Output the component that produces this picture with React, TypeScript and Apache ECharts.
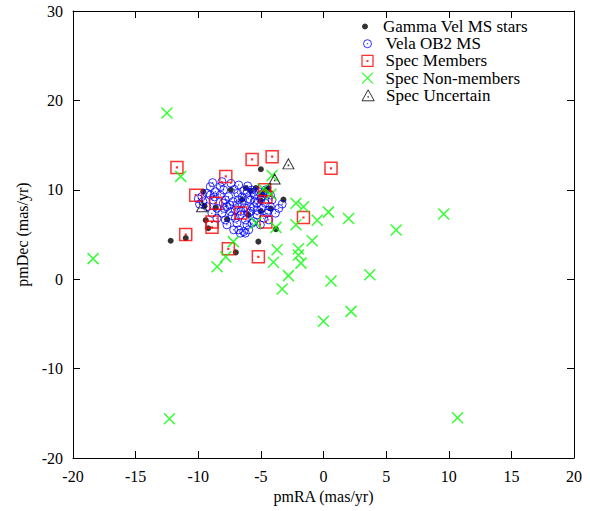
import React, { useEffect, useRef } from "react";
import * as echarts from "echarts";

// ---- Data (pmRA, pmDec) in mas/yr ----
const gammaVel: [number, number][] = [
  [-12.2, 4.3], [-11.0, 4.6], [-9.6, 9.8], [-9.4, 6.6], [-9.2, 5.7], [-9.5, 8.2],
  [-7.4, 10.0], [-6.2, 10.2], [-5.4, 10.2], [-4.4, 10.2], [-5.0, 12.3], [-3.2, 8.9],
  [-6.5, 8.9], [-5.0, 8.8], [-5.0, 7.6], [-7.7, 6.7], [-3.8, 5.6], [-5.2, 4.2],
  [-7.0, 3.0], [-4.6, 10.0], [-5.8, 9.9], [-4.9, 9.5], [-8.6, 8.0], [-6.0, 7.2],
  [-4.2, 7.9],
];

const velaOB2: [number, number][] = [
  [-8.85, 10.8], [-8.11, 10.91], [-7.39, 10.72], [-6.77, 10.54], [-6.05, 10.43], [-9.04, 10.35], [-8.24, 10.35],
  [-9.31, 9.61], [-8.64, 9.79], [-7.97, 9.98], [-7.12, 10.05], [-6.37, 9.9], [-5.71, 9.98], [-5.17, 9.79], [-4.64, 9.98],
  [-9.71, 9.24], [-9.04, 9.42], [-8.24, 9.42], [-7.57, 9.24], [-6.85, 9.61], [-6.11, 9.61], [-5.52, 9.42], [-4.91, 9.24], [-4.24, 9.42],
  [-9.63, 8.68], [-8.83, 8.86], [-7.84, 8.86], [-7.23, 8.68], [-6.51, 8.49], [-5.84, 8.86], [-5.31, 8.49], [-4.64, 8.49], [-4.11, 8.86],
  [-9.31, 8.12], [-8.51, 7.93], [-7.71, 8.12], [-7.04, 7.75], [-6.16, 7.93], [-5.57, 8.12], [-4.91, 7.93], [-4.24, 8.12], [-3.57, 7.93],
  [-8.91, 7.38], [-8.11, 7.38], [-7.44, 7.56], [-6.64, 7.19], [-5.97, 7.38], [-5.31, 7.19], [-4.51, 7.38], [-3.84, 7.38],
  [-8.51, 6.82], [-7.84, 6.63], [-7.04, 6.82], [-6.24, 6.63], [-5.57, 6.45], [-4.77, 6.82], [-4.37, 6.63],
  [-7.71, 6.08], [-6.91, 6.26], [-6.11, 6.08], [-5.71, 6.26], [-5.04, 6.08],
  [-7.17, 5.52], [-6.77, 5.52], [-6.37, 5.33], [-6.24, 5.15], [-6.64, 5.15], [-5.97, 5.52],
  [-6.5, 9.2], [-6.0, 9.0], [-5.5, 8.7], [-6.8, 8.9], [-7.5, 8.3], [-6.3, 8.0], [-5.8, 7.6],
  [-5.0, 8.9], [-4.8, 9.6], [-5.6, 9.7], [-6.9, 8.3], [-7.9, 7.9], [-8.7, 9.2], [-8.0, 8.5],
  [-6.6, 7.6], [-5.3, 7.7], [-4.4, 7.7], [-7.3, 7.1], [-9.9, 8.4], [-10.0, 9.0], [-3.3, 8.4],
];

const specMembers: [number, number][] = [
  [-11.7, 12.5], [-11.0, 5.0], [-10.2, 9.4], [-8.9, 6.4], [-8.9, 5.8], [-8.6, 8.5],
  [-7.8, 11.5], [-7.6, 3.4], [-5.7, 13.4], [-4.1, 13.7], [0.6, 12.4], [-1.6, 6.9],
  [-5.2, 2.5], [-6.6, 7.4], [-4.6, 6.4], [-4.7, 10.0], [-4.6, 9.2],
];

const specNonMembers: [number, number][] = [
  [-12.5, 18.6], [-18.4, 2.3], [-12.3, -15.6], [10.7, -15.5], [-11.4, 11.5], [-4.1, 11.6],
  [-4.8, 10.1], [-4.2, 9.5], [-2.2, 8.5], [-1.6, 8.1], [0.4, 7.5], [2.0, 6.8],
  [-0.5, 6.6], [-2.2, 6.1], [-0.9, 4.3], [-2.0, 3.4], [-2.0, 2.7], [-1.8, 1.8],
  [-3.7, 3.3], [-4.0, 1.9], [-2.8, 0.4], [-3.3, -1.1], [0.6, -0.2], [0.0, -4.7],
  [2.2, -3.6], [3.7, 0.5], [5.8, 5.5], [9.6, 7.3], [-5.4, 6.3], [-3.8, 5.8],
  [-7.2, 4.2], [-7.8, 2.5], [-8.5, 1.4],
];

const specUncertain: [number, number][] = [
  [-2.8, 12.9], [-3.9, 11.2], [-9.7, 8.1],
];

const seriesNames = [
  "Gamma Vel MS stars",
  "Vela OB2 MS",
  "Spec Members",
  "Spec Non-members",
  "Spec Uncertain",
];

const xRange = { min: -20, max: 20, interval: 5 };
const yRange = { min: -20, max: 30, interval: 10 };

// ---- symbols ----
const CIRCLE_DOT =
  "path://M10,5A5,5 0 1,1 0,5A5,5 0 1,1 10,5Z M5.35,5A0.35,0.35 0 1,1 4.65,5A0.35,0.35 0 1,1 5.35,5Z";
const SQUARE_DOT = "path://M0,0H10V10H0Z M4.7,4.7H5.3V5.3H4.7Z";
const CROSS = "path://M0,0L10,10M10,0L0,10";
const TRIANGLE_DOT = "path://M5,0L10,9L0,9Z M4.75,5.6H5.25V6.1H4.75Z";

const FONT = "Liberation Serif";

export default function App() {
  const ref = useRef<HTMLDivElement>(null);

  useEffect(() => {
    if (!ref.current) return;
    const chart = echarts.init(ref.current, undefined, { renderer: "svg" });

    const axisCommon = {
      axisLine: { show: true, onZero: false, lineStyle: { color: "#000", width: 1 } },
      axisTick: { show: true, inside: true, length: 7, lineStyle: { color: "#000", width: 1 } },
      splitLine: { show: false },
    };

    const rows = [26, 43.2, 60.4, 77.6, 94.8];
    const iconSizes = [6, 8, 11, 11, 11];
    const icons = ["circle", CIRCLE_DOT, SQUARE_DOT, CROSS, TRIANGLE_DOT];
    const iconStyles: any[] = [
      { color: "#000", borderWidth: 0 },
      { color: "none", borderColor: "#0000ff", borderWidth: 1 },
      { color: "none", borderColor: "#ff0000", borderWidth: 1.3 },
      { color: "none", borderColor: "#00ff00", borderWidth: 1.3 },
      { color: "none", borderColor: "#000", borderWidth: 1 },
    ];
    const iconCenterX = 365;
    const legendItemWidth = 26;

    const legends = seriesNames.map((name, i) => ({
      show: true,
      orient: "vertical",
      left: iconCenterX - iconSizes[i] / 2,
      top: rows[i] - 8,
      padding: 0,
      itemWidth: legendItemWidth,
      itemHeight: iconSizes[i],
      selectedMode: false,
      symbolKeepAspect: true,
      textStyle: { fontFamily: FONT, fontSize: 17, color: "#000", lineHeight: 16 },
      data: [{ name, icon: icons[i], itemStyle: iconStyles[i] }],
    }));

    const option: any = {
      animation: false,
      backgroundColor: "#fff",
      grid: { left: 73, right: 16, top: 11, bottom: 53, containLabel: false, outerBoundsMode: "none" },
      legend: legends,
      xAxis: [
        {
          type: "value",
          position: "bottom",
          ...xRange,
          ...axisCommon,
          name: "pmRA (mas/yr)",
          nameLocation: "middle",
          nameGap: 30,
          nameTextStyle: { fontFamily: FONT, fontSize: 16, color: "#000" },
          axisLabel: { fontFamily: FONT, fontSize: 16, color: "#000", margin: 10 },
        },
        {
          type: "value",
          position: "top",
          ...xRange,
          ...axisCommon,
          axisLabel: { show: false },
        },
      ],
      yAxis: [
        {
          type: "value",
          position: "left",
          ...yRange,
          ...axisCommon,
          name: "pmDec (mas/yr)",
          nameLocation: "middle",
          nameGap: 42,
          nameTextStyle: { fontFamily: FONT, fontSize: 16, color: "#000" },
          axisLabel: { fontFamily: FONT, fontSize: 16, color: "#000", margin: 10 },
        },
        {
          type: "value",
          position: "right",
          ...yRange,
          ...axisCommon,
          axisLabel: { show: false },
        },
      ],
      series: [
        {
          name: seriesNames[0],
          type: "scatter",
          data: gammaVel,
          symbol: "circle",
          symbolSize: 6,
          itemStyle: { color: "#000" },
          emphasis: { disabled: true },
        },
        {
          name: seriesNames[1],
          type: "scatter",
          data: velaOB2,
          symbol: CIRCLE_DOT,
          symbolSize: 8,
          itemStyle: { color: "none", borderColor: "#0000ff", borderWidth: 1 },
          emphasis: { disabled: true },
        },
        {
          name: seriesNames[2],
          type: "scatter",
          data: specMembers,
          symbol: SQUARE_DOT,
          symbolSize: 12,
          itemStyle: { color: "none", borderColor: "#ff0000", borderWidth: 1.5 },
          emphasis: { disabled: true },
        },
        {
          name: seriesNames[3],
          type: "scatter",
          data: specNonMembers,
          symbol: CROSS,
          symbolSize: 11,
          itemStyle: { color: "none", borderColor: "#00ff00", borderWidth: 1.5 },
          emphasis: { disabled: true },
        },
        {
          name: seriesNames[4],
          type: "scatter",
          data: specUncertain,
          symbol: TRIANGLE_DOT,
          symbolSize: [11, 10],
          itemStyle: { color: "none", borderColor: "#000", borderWidth: 1 },
          emphasis: { disabled: true },
        },
      ],
    };

    chart.setOption(option);
    return () => chart.dispose();
  }, []);

  return (
    <div
      ref={ref}
      style={{ position: "fixed", left: 0, top: 0, width: 590, height: 511, background: "#fff" }}
    />
  );
}
